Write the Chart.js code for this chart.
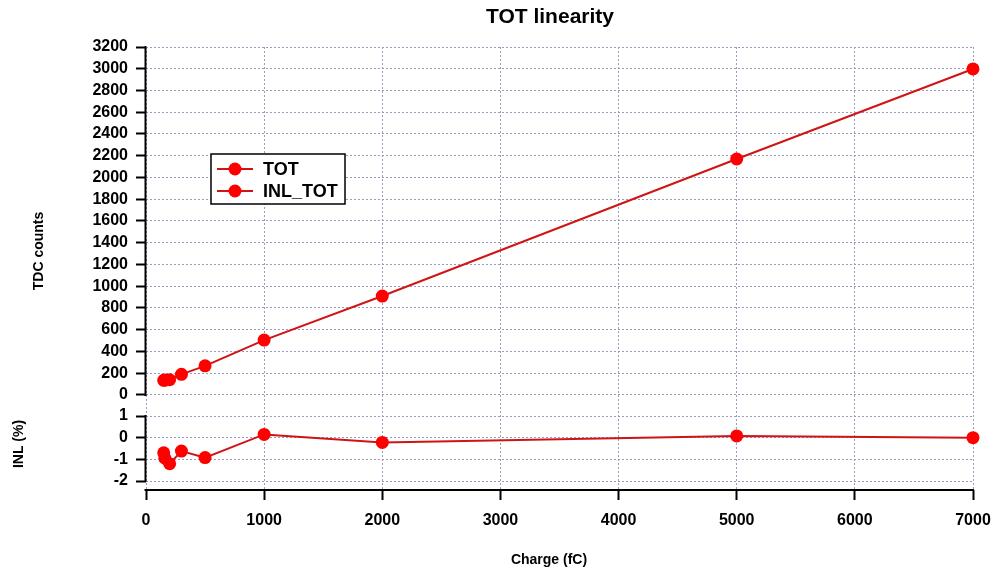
<!DOCTYPE html>
<html>
<head>
<meta charset="utf-8">
<title>TOT linearity</title>
<script src="https://cdn.jsdelivr.net/npm/chart.js@4/dist/chart.umd.min.js"></script>
<style>
  html, body { margin: 0; padding: 0; background: #fff; }
  canvas { display: block; }
</style>
</head>
<body>
<canvas id="chart" width="993" height="571"></canvas>
<script>
// data
const CHARGE = [150, 160, 200, 300, 500, 1000, 2000, 5000, 7000];
const TOT = [135, 137, 140, 190, 268, 505, 910, 2170, 2998];
const INL_TOT = [-0.7, -0.95, -1.2, -0.62, -0.92, 0.15, -0.22, 0.08, 0.0];

// tick labels
const X_TICKS = [0, 1000, 2000, 3000, 4000, 5000, 6000, 7000];
const TDC_TICKS = [0, 200, 400, 600, 800, 1000, 1200, 1400, 1600, 1800, 2000, 2200, 2400, 2600, 2800, 3000, 3200];
const INL_TICKS = [-2, -1, 0, 1];

const FONT = "'Liberation Sans', Arial, sans-serif";
const LINE_RED = "#d01414";
const DOT_RED = "#ff0000";

const toPoints = ys => CHARGE.map((x, i) => ({ x, y: ys[i] }));
const fixedTicks = list => scale => { scale.ticks = list.map(v => ({ value: v })); };

const gridOpts = () => ({
  color: "#9a9ab8",
  lineWidth: 1,
  tickColor: "#000",
  tickWidth: 2,
  tickLength: 10
});
const tickOpts = pad => ({
  color: "#000",
  padding: pad,
  maxRotation: 0,
  autoSkip: false,
  callback: v => String(v),
  font: { family: FONT, size: 16, weight: "bold" }
});

// axis lines, titles and the boxed legend
const decor = {
  id: "decor",
  beforeDatasetsDraw(chart) {
    const { ctx, chartArea: a, scales } = chart;
    ctx.save();
    ctx.strokeStyle = "#000";
    ctx.lineWidth = 2;
    ctx.lineCap = "square";
    ctx.beginPath();
    ctx.moveTo(a.left - 0.5, scales.y.getPixelForValue(3200));
    ctx.lineTo(a.left - 0.5, scales.y.getPixelForValue(0));
    ctx.moveTo(a.left - 0.5, scales.yInl.getPixelForValue(1));
    ctx.lineTo(a.left - 0.5, scales.yInl.getPixelForValue(-2));
    ctx.moveTo(a.left - 0.5, a.bottom);
    ctx.lineTo(a.right, a.bottom);
    ctx.stroke();
    ctx.restore();
  },
  afterDraw(chart) {
    const { ctx } = chart;
    ctx.save();
    ctx.fillStyle = "#000";
    ctx.textAlign = "center";
    ctx.textBaseline = "middle";

    ctx.font = "bold 21px " + FONT;
    ctx.fillText("TOT linearity", 550, 17);

    ctx.font = "bold 14px " + FONT;
    ctx.fillText("Charge (fC)", 549, 560);

    ctx.save();
    ctx.translate(39, 251);
    ctx.rotate(-Math.PI / 2);
    ctx.fillText("TDC counts", 0, 0);
    ctx.restore();

    ctx.save();
    ctx.translate(19, 444);
    ctx.rotate(-Math.PI / 2);
    ctx.fillText("INL (%)", 0, 0);
    ctx.restore();

    // legend
    ctx.fillStyle = "#fff";
    ctx.fillRect(211, 154, 134, 50);
    ctx.strokeStyle = "#000";
    ctx.lineWidth = 1.5;
    ctx.strokeRect(211, 154, 134, 50);
    chart.data.datasets.forEach((ds, i) => {
      const y = 169 + i * 22;
      ctx.strokeStyle = ds.borderColor;
      ctx.lineWidth = 2;
      ctx.beginPath();
      ctx.moveTo(217, y);
      ctx.lineTo(253, y);
      ctx.stroke();
      ctx.fillStyle = ds.pointBackgroundColor;
      ctx.beginPath();
      ctx.arc(235, y, 6.5, 0, Math.PI * 2);
      ctx.fill();
      ctx.fillStyle = "#000";
      ctx.textAlign = "left";
      ctx.font = "bold 18px " + FONT;
      ctx.fillText(ds.label, 263, y + 1);
    });
    ctx.restore();
  }
};

new Chart(document.getElementById("chart"), {
  type: "scatter",
  data: {
    datasets: [
      {
        label: "TOT",
        data: toPoints(TOT),
        yAxisID: "y",
        showLine: true,
        borderColor: LINE_RED,
        borderWidth: 2,
        pointBackgroundColor: DOT_RED,
        pointBorderWidth: 0,
        pointRadius: 6.5,
        clip: false
      },
      {
        label: "INL_TOT",
        data: toPoints(INL_TOT),
        yAxisID: "yInl",
        showLine: true,
        borderColor: LINE_RED,
        borderWidth: 2,
        pointBackgroundColor: DOT_RED,
        pointBorderWidth: 0,
        pointRadius: 6.5,
        clip: false
      }
    ]
  },
  options: {
    responsive: false,
    animation: false,
    layout: { padding: { top: 47, right: 20, bottom: 0, left: 0 } },
    plugins: {
      legend: { display: false },
      title: { display: false },
      tooltip: { enabled: false }
    },
    scales: {
      x: {
        type: "linear",
        min: 0,
        max: 7000,
        afterBuildTicks: fixedTicks(X_TICKS),
        afterFit: s => { s.height = 81; s.paddingLeft = 0; s.paddingRight = 0; },
        grid: gridOpts(),
        border: { display: false, dash: [2, 2] },
        ticks: tickOpts(11)
      },
      yInl: {
        type: "linear",
        position: "left",
        stack: "left",
        stackWeight: 85,
        min: -2.415,
        max: 1.508,
        afterBuildTicks: fixedTicks(INL_TICKS),
        afterFit: s => { s.width = 146; },
        grid: gridOpts(),
        border: { display: false, dash: [2, 2] },
        ticks: tickOpts(8)
      },
      y: {
        type: "linear",
        position: "left",
        stack: "left",
        stackWeight: 358,
        min: -92,
        max: 3200,
        afterBuildTicks: fixedTicks(TDC_TICKS),
        afterFit: s => { s.width = 146; },
        grid: gridOpts(),
        border: { display: false, dash: [2, 2] },
        ticks: tickOpts(8)
      }
    }
  },
  plugins: [decor]
});
</script>
</body>
</html>
